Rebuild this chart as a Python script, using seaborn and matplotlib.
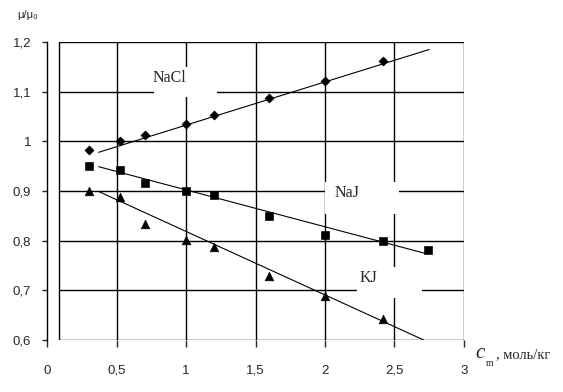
import matplotlib
matplotlib.use('Agg')
import matplotlib.pyplot as plt
import seaborn as sns
from matplotlib.patches import Rectangle

# concentrations (mol/kg) and relative viscosity
conc = [0.3, 0.52, 0.7, 1.0, 1.2, 1.6, 2.0, 2.42]
nacl = [0.983, 1.001, 1.013, 1.034, 1.053, 1.087, 1.122, 1.161]
kj = [0.901, 0.888, 0.833, 0.802, 0.788, 0.729, 0.688, 0.643]
conc_naj = [0.3, 0.52, 0.7, 1.0, 1.2, 1.6, 2.0, 2.42, 2.74]
naj = [0.951, 0.942, 0.917, 0.901, 0.892, 0.850, 0.812, 0.800, 0.781]

# trend lines, end points
fit_x = [0.37, 2.75]
nacl_fit = [0.978, 1.185]
naj_fit_x = [0.37, 2.74]
naj_fit = [0.949, 0.773]
kj_fit_x = [0.37, 2.71]
kj_fit = [0.899, 0.600]

xticks = [0, 0.5, 1, 1.5, 2, 2.5, 3]
xlabels = ['0', '0,5', '1', '1,5', '2', '2,5', '3']
yticks = [0.6, 0.7, 0.8, 0.9, 1.0, 1.1, 1.2]
ylabels = ['0,6', '0,7', '0,8', '0,9', '1', '1,1', '1,2']

sns.set_style('white')
plt.rcParams['font.family'] = ['Liberation Sans', 'DejaVu Sans']

fig = plt.figure(figsize=(5.63, 3.92), dpi=100)
ax = fig.add_axes([0.084, 0.1327, 0.740, 0.760])

ax.set_xlim(0, 3)
ax.set_ylim(0.6, 1.2)

# frame and grid (frame starts a bit right of the y axis)
x0 = 0.086
ax.add_patch(Rectangle((x0, 0.6), 3 - x0, 0.6, fill=False, edgecolor='black', lw=1.0, zorder=1.5))
ax.hlines([0.7, 0.8, 0.9, 1.0, 1.1], x0, 3, color='black', lw=1.0, zorder=1.5)
ax.vlines([0.5, 1, 1.5, 2, 2.5], 0.6, 1.2, color='black', lw=1.0, zorder=1.5)

# white label boxes that cut the grid
for bx, by, bw, bh in [(0.77, 1.089, 0.45, 0.061), (2.0, 0.854, 0.53, 0.064), (2.23, 0.685, 0.47, 0.062)]:
    ax.add_patch(Rectangle((bx, by), bw, bh, facecolor='white', edgecolor='none', zorder=2))

sns.lineplot(x=fit_x, y=nacl_fit, color='black', lw=0.8, ax=ax, zorder=3)
sns.lineplot(x=naj_fit_x, y=naj_fit, color='black', lw=0.8, ax=ax, zorder=3)
sns.lineplot(x=kj_fit_x, y=kj_fit, color='black', lw=0.8, ax=ax, zorder=3)

sns.scatterplot(x=conc, y=nacl, marker='D', s=22, color='black', edgecolor='black', ax=ax, zorder=4)
sns.scatterplot(x=conc_naj, y=naj, marker='s', s=32, color='black', edgecolor='black', ax=ax, zorder=4)
sns.scatterplot(x=conc, y=kj, marker='^', s=38, color='black', edgecolor='black', ax=ax, zorder=4)

serif = ['Liberation Serif', 'DejaVu Serif']
ax.text(0.877, 1.128, 'NaCl', family=serif, size=11.5, ha='center', va='center', zorder=5)
ax.text(2.16, 0.896, 'NaJ', family=serif, size=11.5, ha='center', va='center', zorder=5)
ax.text(2.31, 0.725, 'KJ', family=serif, size=11.5, ha='center', va='center', zorder=5)

# axis titles
ax.text(-0.14, 1.254, 'μ/μ₀', size=8, ha='center', va='center', clip_on=False)
ax.text(3.08, 0.573, 'c', family=serif, style='italic', size=15, ha='left', va='center', clip_on=False)
ax.text(3.16, 0.553, 'm', family=serif, size=7, ha='left', va='center', clip_on=False)
ax.text(3.23, 0.571, ', моль/кг', family=serif, size=10.5, ha='left', va='center', clip_on=False)

ax.set_xticks(xticks)
ax.set_xticklabels(xlabels)
ax.set_yticks(yticks)
ax.set_yticklabels(ylabels)
ax.tick_params(axis='x', direction='out', length=5, width=1.0, pad=13, labelsize=9.5, bottom=True)
ax.tick_params(axis='y', direction='out', length=3.6, width=1.0, pad=8, labelsize=9.5, left=True)

for s in ['top', 'right', 'bottom']:
    ax.spines[s].set_visible(False)
ax.spines['left'].set_color('black')
ax.spines['left'].set_linewidth(1.0)
ax.set_xlabel('')
ax.set_ylabel('')

fig.savefig('out.png', dpi=100)
